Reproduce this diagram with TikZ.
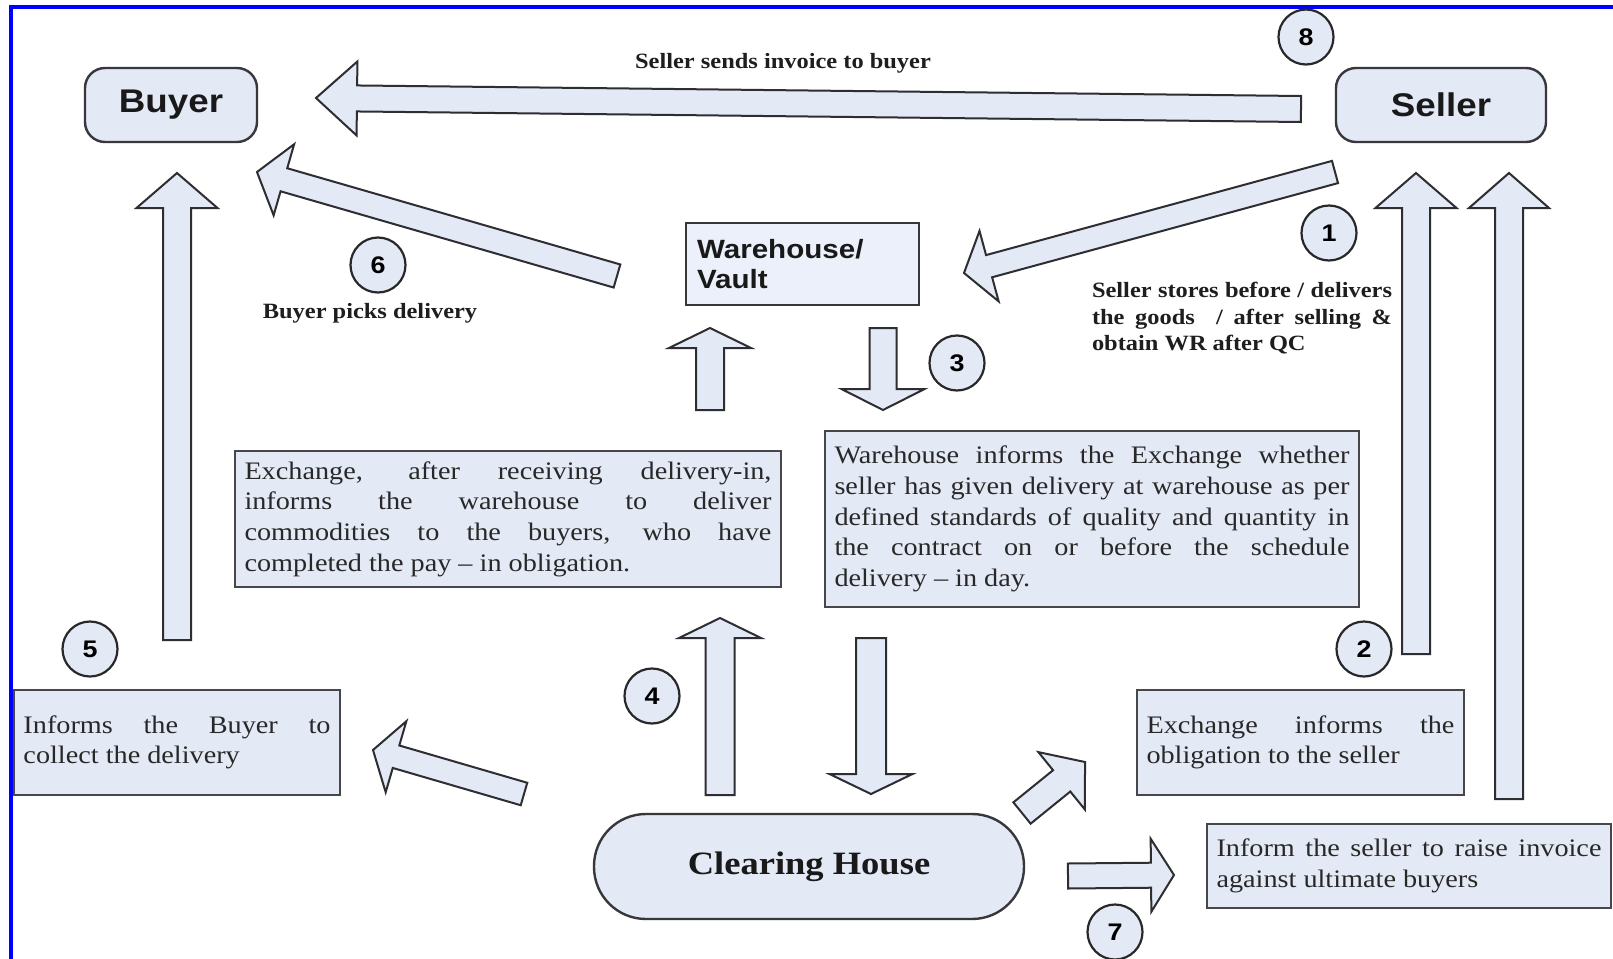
\documentclass[tikz,border=0pt]{standalone}
\usepackage{fontspec}
\setmainfont{Liberation Serif}[FakeStretch=1.12]
\setsansfont{Liberation Sans}[FakeStretch=1.12]
\usepackage{tikz}
\usetikzlibrary{calc}

% block arrow: tail, tip, half shaft, half head, head length
\newcommand{\blockarrow}[5]{%
  \coordinate (ba-base) at ($(#2)!#5!(#1)$);
  \draw[blockarr] ($(#1)!#3!90:(#2)$) -- ($(ba-base)!#3!-90:(#1)$)
    -- ($(ba-base)!#4!-90:(#1)$) -- (#2) -- ($(ba-base)!#4!90:(#1)$)
    -- ($(ba-base)!#3!90:(#1)$) -- ($(#1)!#3!-90:(#2)$) -- cycle;
}

\begin{document}
\begin{tikzpicture}[x=0.5pt, y=-0.5pt,
            % Buyer / Seller boxes
            party/.style={draw={rgb,255:red,55;green,55;blue,60}, fill={rgb,255:red,228;green,233;blue,246},
                    rounded corners=10pt, line width=1.2pt, minimum height=37pt,
                    font=\sffamily\bfseries\fontsize{16.4}{18}\selectfont, text={rgb,255:red,25;green,25;blue,25}},
            % Text boxes
            infobox/.style={draw={rgb,255:red,70;green,70;blue,75}, fill={rgb,255:red,228;green,233;blue,246},
                    line width=1.4pt, align=justify, inner xsep=4.75pt, inner ysep=0pt,
                    font=\fontsize{12.6}{15.3}\selectfont, text={rgb,255:red,40;green,40;blue,40}},
            % Step numbers
            badge/.style={circle, draw={rgb,255:red,40;green,40;blue,40}, fill={rgb,255:red,228;green,233;blue,246},
                    line width=1.1pt, minimum size=27.5pt, inner sep=0pt,
                    font=\sffamily\bfseries\fontsize{12}{12}\selectfont},
            % Free labels
            steplabel/.style={font=\bfseries\fontsize{10.9}{13.25}\selectfont, inner sep=0pt,
                    text={rgb,255:red,30;green,30;blue,30}},
            % Fat arrows
            blockarr/.style={draw={rgb,255:red,45;green,45;blue,50}, fill={rgb,255:red,228;green,233;blue,246},
                    line width=1pt, line join=miter}
        ]

        \useasboundingbox (0,0) rectangle (1613,959);
        \fill[white] (0,0) rectangle (1613,959);
        \draw[draw={rgb,255:red,0;green,0;blue,255}, line width=2pt] (11,959) -- (11,7) -- (1613,7);

        % Parties
        \node[party, minimum width=86pt] (buyer) at (171,105) {Buyer};
        \node[party, minimum width=105pt] (seller) at (1441,105) {Seller};

        % Warehouse
        \node[draw={rgb,255:red,55;green,55;blue,60}, fill={rgb,255:red,236;green,240;blue,250},
              line width=1.2pt, minimum width=116.5pt, minimum height=41pt, text width=105.5pt,
              inner xsep=5.5pt, align=left, font=\sffamily\bfseries\fontsize{13.2}{15}\selectfont,
              text={rgb,255:red,25;green,25;blue,25}] (vault) at (802.5,264) {Warehouse/\\Vault};

        % Clearing House
        \node[draw={rgb,255:red,55;green,55;blue,60}, fill={rgb,255:red,228;green,233;blue,246},
              line width=1.2pt, rounded corners=26pt, minimum width=215pt, minimum height=52.5pt,
              font=\bfseries\fontsize{16.3}{18}\selectfont, text={rgb,255:red,25;green,25;blue,25}]
              (clearing) at (809,866.5) {Clearing House};

        % Text boxes
        \node[infobox, text width=263.5pt, minimum height=68pt] (exbox) at (508,519)
            {Exchange, after receiving delivery-in,\linebreak informs the warehouse to deliver\linebreak
             commodities to the buyers, who have\linebreak completed the pay – in obligation.};
        \node[infobox, text width=257.5pt, minimum height=88pt] (whbox) at (1092,519)
            {Warehouse informs the Exchange whether\linebreak seller has given delivery at warehouse as per\linebreak
             defined standards of quality and quantity in\linebreak the contract on or before the schedule\linebreak
             delivery – in day.};
        \node[infobox, text width=154pt, minimum height=52.5pt] (obbox) at (1300.5,742.5)
            {Exchange informs the\linebreak obligation to the seller};
        \node[infobox, text width=153.5pt, minimum height=52.5pt] (colbox) at (177,742.5)
            {Informs the Buyer to\linebreak collect the delivery};
        \node[infobox, text width=192.5pt, minimum height=42pt] (invbox) at (1409,866)
            {Inform the seller to raise invoice\linebreak against ultimate buyers};

        % Labels
        \node[steplabel] (lbl8) at (783,63) {Seller sends invoice to buyer};
        \node[steplabel] (lbl6) at (370,313) {Buyer picks delivery};
        \node[steplabel, text width=150pt, align=justify] (lbl1) at (1242,318.5)
            {Seller stores before / delivers\linebreak the goods~ / after selling \&\linebreak obtain WR after QC};

        % Step numbers
        \node[badge] (b1) at (1329,233) {1};
        \node[badge] (b2) at (1364,649) {2};
        \node[badge] (b3) at (957,363) {3};
        \node[badge] (b4) at (652,696) {4};
        \node[badge] (b5) at (90,649) {5};
        \node[badge] (b6) at (378,265) {6};
        \node[badge] (b7) at (1115,932) {7};
        \node[badge] (b8) at (1306,37) {8};

        % Arrow ends
        \coordinate (a8-s) at (1301,109);   \coordinate (a8-e) at (316,98);
        \coordinate (a6-s) at (617,276);    \coordinate (a6-e) at (257,172);
        \coordinate (a5-s) at (177,640);    \coordinate (a5-e) at (177,173);
        \coordinate (a1-s) at (1335,172);   \coordinate (a1-e) at (964,273);
        \coordinate (a2-s) at (1416,654);   \coordinate (a2-e) at (1416,173);
        \coordinate (a9-s) at (1509,799);   \coordinate (a9-e) at (1509,173);
        \coordinate (aw-s) at (710,410);    \coordinate (aw-e) at (710,328);
        \coordinate (a3-s) at (883,328);    \coordinate (a3-e) at (883,410);
        \coordinate (a4-s) at (720,795);    \coordinate (a4-e) at (720,618);
        \coordinate (ac-s) at (871,638);    \coordinate (ac-e) at (871,794);
        \coordinate (ab-s) at (524,794);    \coordinate (ab-e) at (373,750);
        \coordinate (ao-s) at (1022,813);   \coordinate (ao-e) at (1085,762);
        \coordinate (a7-s) at (1068,876);   \coordinate (a7-e) at (1174,875);

        % Arrows
        \blockarrow{a8-s}{a8-e}{6.5pt}{18.5pt}{20.5pt}
        \blockarrow{a6-s}{a6-e}{6pt}{18.5pt}{14pt}
        \blockarrow{a5-s}{a5-e}{7pt}{20.25pt}{17.5pt}
        \blockarrow{a1-s}{a1-e}{5.75pt}{18.25pt}{13pt}
        \blockarrow{a2-s}{a2-e}{7pt}{20.25pt}{17.5pt}
        \blockarrow{a9-s}{a9-e}{7pt}{20pt}{17.5pt}
        \blockarrow{aw-s}{aw-e}{7pt}{20.5pt}{10pt}
        \blockarrow{a3-s}{a3-e}{6.75pt}{20.75pt}{10.5pt}
        \blockarrow{a4-s}{a4-e}{7.25pt}{20.5pt}{10pt}
        \blockarrow{ac-s}{ac-e}{7.5pt}{20.75pt}{10pt}
        \blockarrow{ab-s}{ab-e}{5.85pt}{18.5pt}{12pt}
        \blockarrow{ao-s}{ao-e}{6.85pt}{18.5pt}{15pt}
        \blockarrow{a7-s}{a7-e}{6.25pt}{18.25pt}{11.5pt}

    \end{tikzpicture}
\end{document}
